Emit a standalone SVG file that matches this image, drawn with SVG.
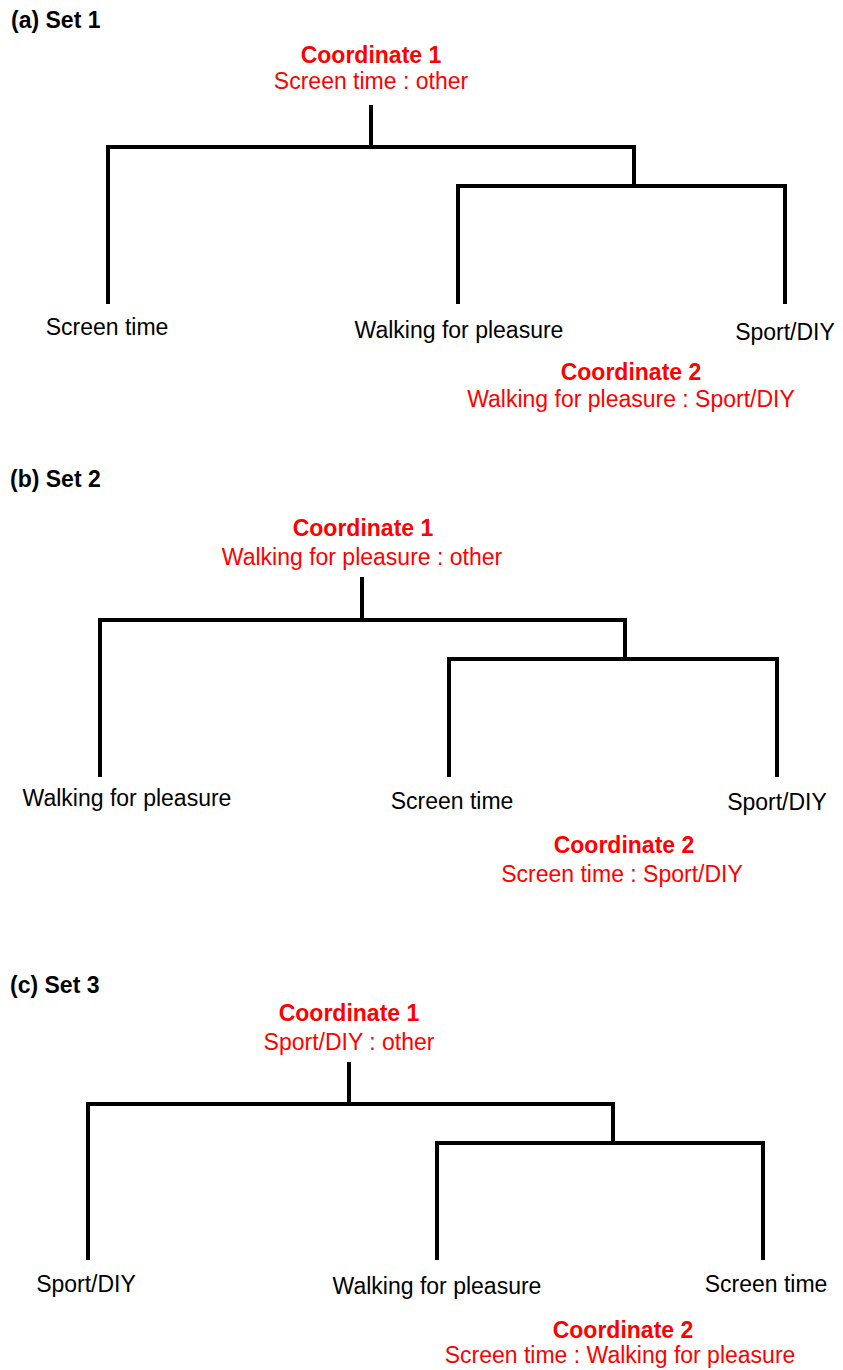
<svg xmlns="http://www.w3.org/2000/svg" width="843" height="1370" viewBox="0 0 843 1370">
<style>
text{font-family:"Liberation Sans",Arial,sans-serif;font-size:23px}
.title{font-weight:bold;fill:#000}
.coord{font-weight:bold;fill:#ff0000;text-anchor:middle}
.ratio{fill:#ff0000;text-anchor:middle}
.leaf{fill:#000;text-anchor:middle}
.edge{fill:none;stroke:#000;stroke-width:4;stroke-linecap:square;stroke-linejoin:miter}
</style>
<rect width="843" height="1370" fill="#fff"/>

<!-- Set 1 -->
<g id="set1-title"><text class="title" x="11" y="28">(a) Set 1</text></g>
<g id="set1-coord1"><text class="coord" x="371" y="63">Coordinate 1</text><text class="ratio" x="371" y="89">Screen time : other</text></g>
<g id="set1-leaf-screen"><text class="leaf" x="107" y="335">Screen time</text></g>
<g id="set1-leaf-walking"><text class="leaf" x="459" y="338">Walking for pleasure</text></g>
<g id="set1-leaf-sport"><text class="leaf" x="785" y="340">Sport/DIY</text></g>
<g id="set1-coord2"><text class="coord" x="631" y="380">Coordinate 2</text><text class="ratio" x="631" y="407">Walking for pleasure : Sport/DIY</text></g>

<!-- Set 2 -->
<g id="set2-title"><text class="title" x="10" y="487">(b) Set 2</text></g>
<g id="set2-coord1"><text class="coord" x="363" y="536">Coordinate 1</text><text class="ratio" x="362" y="565">Walking for pleasure : other</text></g>
<g id="set2-leaf-walking"><text class="leaf" x="127" y="806">Walking for pleasure</text></g>
<g id="set2-leaf-screen"><text class="leaf" x="452" y="809">Screen time</text></g>
<g id="set2-leaf-sport"><text class="leaf" x="777" y="810">Sport/DIY</text></g>
<g id="set2-coord2"><text class="coord" x="624" y="853">Coordinate 2</text><text class="ratio" x="622" y="882">Screen time : Sport/DIY</text></g>

<!-- Set 3 -->
<g id="set3-title"><text class="title" x="10" y="993">(c) Set 3</text></g>
<g id="set3-coord1"><text class="coord" x="349" y="1021">Coordinate 1</text><text class="ratio" x="349" y="1050">Sport/DIY : other</text></g>
<g id="set3-leaf-sport"><text class="leaf" x="86" y="1292">Sport/DIY</text></g>
<g id="set3-leaf-walking"><text class="leaf" x="437" y="1294">Walking for pleasure</text></g>
<g id="set3-leaf-screen"><text class="leaf" x="766" y="1292">Screen time</text></g>
<g id="set3-coord2"><text class="coord" x="623" y="1338">Coordinate 2</text><text class="ratio" x="620" y="1363">Screen time : Walking for pleasure</text></g>

<g id="connectors">
<!-- Set 1 -->
<path class="edge" d="M371 107 V147"/>
<path class="edge" d="M108 302 V147 H634 V186"/>
<path class="edge" d="M458 302 V186 H785 V302"/>
<!-- Set 2 -->
<path class="edge" d="M362 579 V620"/>
<path class="edge" d="M100 775 V620 H625 V659"/>
<path class="edge" d="M449 775 V659 H777 V775"/>
<!-- Set 3 -->
<path class="edge" d="M349 1064 V1104"/>
<path class="edge" d="M88 1258 V1104 H613 V1143"/>
<path class="edge" d="M437 1258 V1143 H763 V1258"/>
</g>
</svg>
